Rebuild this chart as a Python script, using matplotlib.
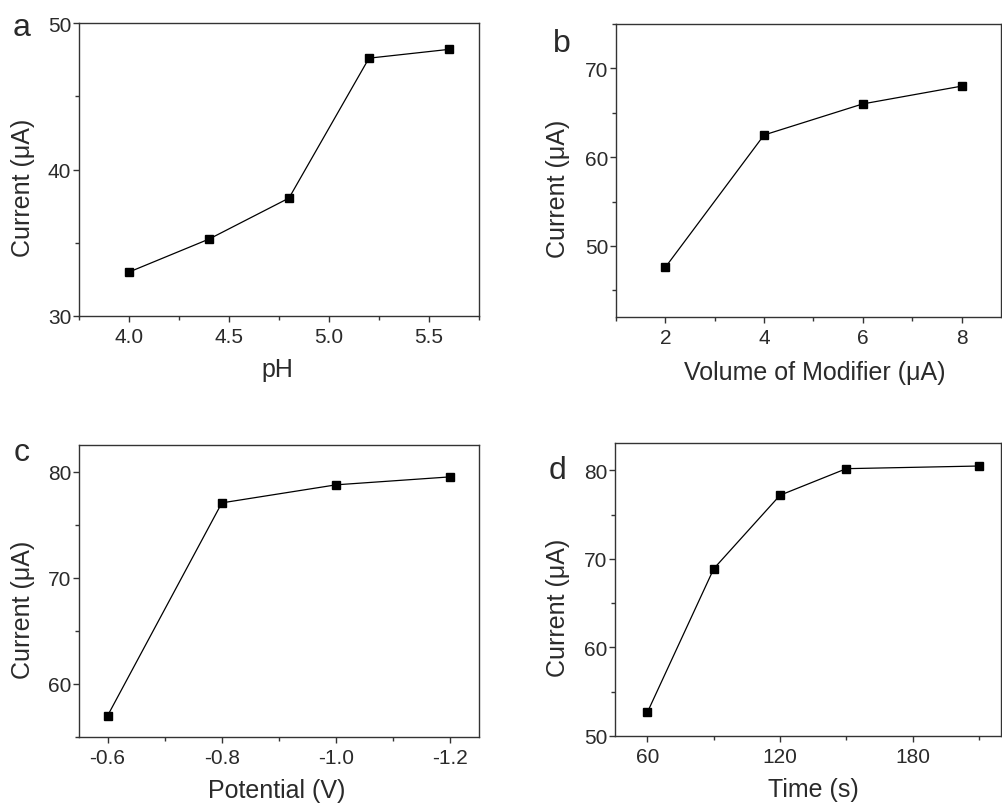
import matplotlib.pyplot as plt
from matplotlib.ticker import MultipleLocator

plt.rcParams['font.family'] = ['Liberation Sans', 'DejaVu Sans']

# panel a: pH
ph = [4.0, 4.4, 4.8, 5.2, 5.6]
cur_ph = [33.0, 35.25, 38.05, 47.6, 48.2]
# panel b: volume of modifier
vol = [2, 4, 6, 8]
cur_vol = [47.6, 62.5, 66.0, 68.0]
# panel c: potential
pot = [-0.6, -0.8, -1.0, -1.2]
cur_pot = [57.0, 77.05, 78.75, 79.5]
# panel d: time
tim = [60, 90, 120, 150, 210]
cur_tim = [52.7, 68.9, 77.2, 80.2, 80.5]

W, H = 1002, 804
fig = plt.figure(figsize=(W / 100, H / 100), dpi=100)

def px_axes(l, t, r, b):
    return fig.add_axes([l / W, 1 - b / H, (r - l) / W, (b - t) / H])

txt = '#2a2a2a'

def style(ax, x, y, xlab, xlim, ylim, xmaj, xmin, ymaj, ymin, letter, lx, ly, xl_pos, yl_pos):
    ax.plot(x, y, '-', color='black', lw=0.9, marker='s', ms=5.5, mfc='black', mec='black')
    ax.set_xlim(*xlim)
    ax.set_ylim(*ylim)
    ax.xaxis.set_major_locator(MultipleLocator(xmaj))
    ax.xaxis.set_minor_locator(MultipleLocator(xmin))
    ax.yaxis.set_major_locator(MultipleLocator(ymaj))
    ax.yaxis.set_minor_locator(MultipleLocator(ymin))
    ax.tick_params(which='both', direction='out', top=False, right=False,
                   labelsize=15, labelcolor=txt, color='#333333', width=1)
    ax.tick_params(which='major', length=4)
    ax.tick_params(which='minor', length=3)
    ax.tick_params(axis='x', which='major', pad=4)
    ax.tick_params(axis='y', which='major', pad=1.5)
    for s in ax.spines.values():
        s.set_linewidth(1.0)
        s.set_color('#333333')
    ax.set_xlabel(xlab, fontsize=18, color=txt)
    ax.set_ylabel('Current (μA)', fontsize=18, color=txt)
    ax.xaxis.set_label_coords(*xl_pos)
    ax.yaxis.set_label_coords(*yl_pos)
    fig.text(lx / W, 1 - ly / H, letter, fontsize=23, color=txt, ha='center', va='center')

ax_a = px_axes(79, 24, 479, 317)
style(ax_a, ph, cur_ph, 'pH', (3.75, 5.75), (30, 50), 0.5, 0.25, 10, 5, 'a', 22, 28,
      (0.495, -0.140), (-0.11, 0.44))
ax_a.xaxis.set_major_formatter(plt.FormatStrFormatter('%.1f'))

ax_b = px_axes(616, 25, 1001, 318)
style(ax_b, vol, cur_vol, 'Volume of Modifier (μA)', (1.0, 8.8), (42, 75), 2, 1, 10, 5, 'b', 562, 44,
      (0.515, -0.147), (-0.119, 0.44))

ax_c = px_axes(79, 446, 479, 738)
style(ax_c, pot, cur_pot, 'Potential (V)', (-0.55, -1.25), (55, 82.5), 0.2, 0.1, 10, 5, 'c', 22, 453,
      (0.495, -0.140), (-0.11, 0.44))
ax_c.xaxis.set_major_formatter(plt.FormatStrFormatter('%.1f'))

ax_d = px_axes(615, 444, 1001, 737)
style(ax_d, tim, cur_tim, 'Time (s)', (45.3, 220), (50, 83.1), 60, 30, 10, 5, 'd', 557, 471,
      (0.515, -0.140), (-0.117, 0.44))

fig.savefig('out.png', dpi=100)
